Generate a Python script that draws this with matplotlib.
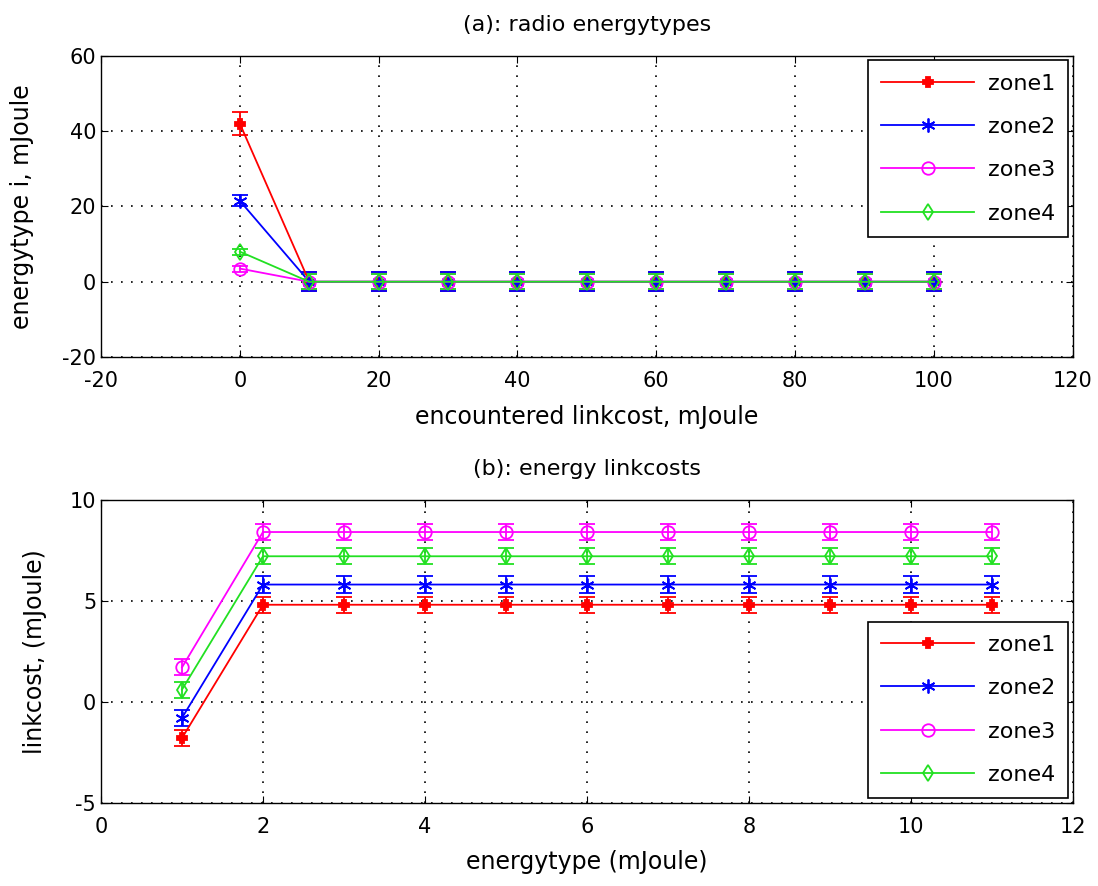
import numpy as np
import matplotlib
matplotlib.use("Agg")
import matplotlib.pyplot as plt
from matplotlib.lines import Line2D

plt.rcParams["axes.unicode_minus"] = False

# (a) radio energytypes
x_a = [0, 10, 20, 30, 40, 50, 60, 70, 80, 90, 100]
zone1_a = [42, 0, 0, 0, 0, 0, 0, 0, 0, 0, 0]
zone2_a = [21.5, 0, 0, 0, 0, 0, 0, 0, 0, 0, 0]
zone3_a = [3.5, 0, 0, 0, 0, 0, 0, 0, 0, 0, 0]
zone4_a = [8, 0, 0, 0, 0, 0, 0, 0, 0, 0, 0]
err1_a = [3, 2.5, 2.5, 2.5, 2.5, 2.5, 2.5, 2.5, 2.5, 2.5, 2.5]
err2_a = [1.5, 2.5, 2.5, 2.5, 2.5, 2.5, 2.5, 2.5, 2.5, 2.5, 2.5]
err3_a = [0.8, 2.0, 2.0, 2.0, 2.0, 2.0, 2.0, 2.0, 2.0, 2.0, 2.0]
err4_a = [0.8, 2.0, 2.0, 2.0, 2.0, 2.0, 2.0, 2.0, 2.0, 2.0, 2.0]

# (b) energy linkcosts
x_b = [1, 2, 3, 4, 5, 6, 7, 8, 9, 10, 11]
zone1_b = [-1.8, 4.8, 4.8, 4.8, 4.8, 4.8, 4.8, 4.8, 4.8, 4.8, 4.8]
zone2_b = [-0.8, 5.8, 5.8, 5.8, 5.8, 5.8, 5.8, 5.8, 5.8, 5.8, 5.8]
zone3_b = [1.7, 8.4, 8.4, 8.4, 8.4, 8.4, 8.4, 8.4, 8.4, 8.4, 8.4]
zone4_b = [0.6, 7.2, 7.2, 7.2, 7.2, 7.2, 7.2, 7.2, 7.2, 7.2, 7.2]
err_b = [0.4, 0.4, 0.4, 0.4, 0.4, 0.4, 0.4, 0.4, 0.4, 0.4, 0.4]

labels = ["zone1", "zone2", "zone3", "zone4"]
colors = ["#ff0000", "#0000ff", "#ff00ff", "#22e022"]
markers = ["P", (6, 2, 0), "o", "d"]
msizes = [7, 10, 9, 8]
filled = [True, True, False, False]

fs_tick = 15
fs_lab = 17
fs_title = 16
fs_leg = 16

fig = plt.figure(figsize=(10.98, 8.86), dpi=100)
ax1 = fig.add_axes([0.092, 0.597, 0.885, 0.34])
ax2 = fig.add_axes([0.092, 0.094, 0.885, 0.342])


def draw(ax, x, ys, errs):
    for y, e, c, m, ms, f in zip(ys, errs, colors, markers, msizes, filled):
        ax.errorbar(x, y, yerr=e, color=c, marker=m, markersize=ms,
                    markerfacecolor=c if f else "none",
                    markeredgewidth=1.3, linewidth=1.3, elinewidth=1.3,
                    capsize=5.5, capthick=1.3)
    ax.grid(True, linestyle=(0, (1, 5)), color="black", linewidth=1.2)
    ax.tick_params(labelsize=fs_tick, direction="in", top=True, right=True, length=5)
    ax.tick_params(axis="x", pad=10)
    for s in ax.spines.values():
        s.set_linewidth(1.0)


def add_legend(ax, loc):
    handles = [Line2D([], [], color=c, marker=m, markersize=ms,
                      markerfacecolor=c if f else "none", markeredgewidth=1.3,
                      linewidth=1.3)
               for c, m, ms, f in zip(colors, markers, msizes, filled)]
    leg = ax.legend(handles, labels, loc=loc, fontsize=fs_leg, fancybox=False,
                    edgecolor="black", borderaxespad=0.2, handlelength=4.2,
                    labelspacing=1.05, handletextpad=0.6, borderpad=0.6, framealpha=1)
    leg.get_frame().set_linewidth(1.2)


draw(ax1, x_a, [zone1_a, zone2_a, zone3_a, zone4_a], [err1_a, err2_a, err3_a, err4_a])
ax1.set_xlim(-20, 120)
ax1.set_ylim(-20, 60)
ax1.set_xticks(range(-20, 121, 20))
ax1.set_yticks(range(-20, 61, 20))
ax1.set_title("(a): radio energytypes", fontsize=fs_title, pad=18)
ax1.set_xlabel("encountered linkcost, mJoule", fontsize=fs_lab, labelpad=10)
ax1.set_ylabel("energytype i, mJoule", fontsize=fs_lab, labelpad=20)
add_legend(ax1, "upper right")

draw(ax2, x_b, [zone1_b, zone2_b, zone3_b, zone4_b], [err_b, err_b, err_b, err_b])
ax2.set_xlim(0, 12)
ax2.set_ylim(-5, 10)
ax2.set_xticks(range(0, 13, 2))
ax2.set_yticks([-5, 0, 5, 10])
ax2.set_title("(b): energy linkcosts", fontsize=fs_title, pad=18)
ax2.set_xlabel("energytype (mJoule)", fontsize=fs_lab, labelpad=10)
ax2.set_ylabel("linkcost, (mJoule)", fontsize=fs_lab, labelpad=16)
add_legend(ax2, "lower right")

fig.savefig("out.png", dpi=100)
